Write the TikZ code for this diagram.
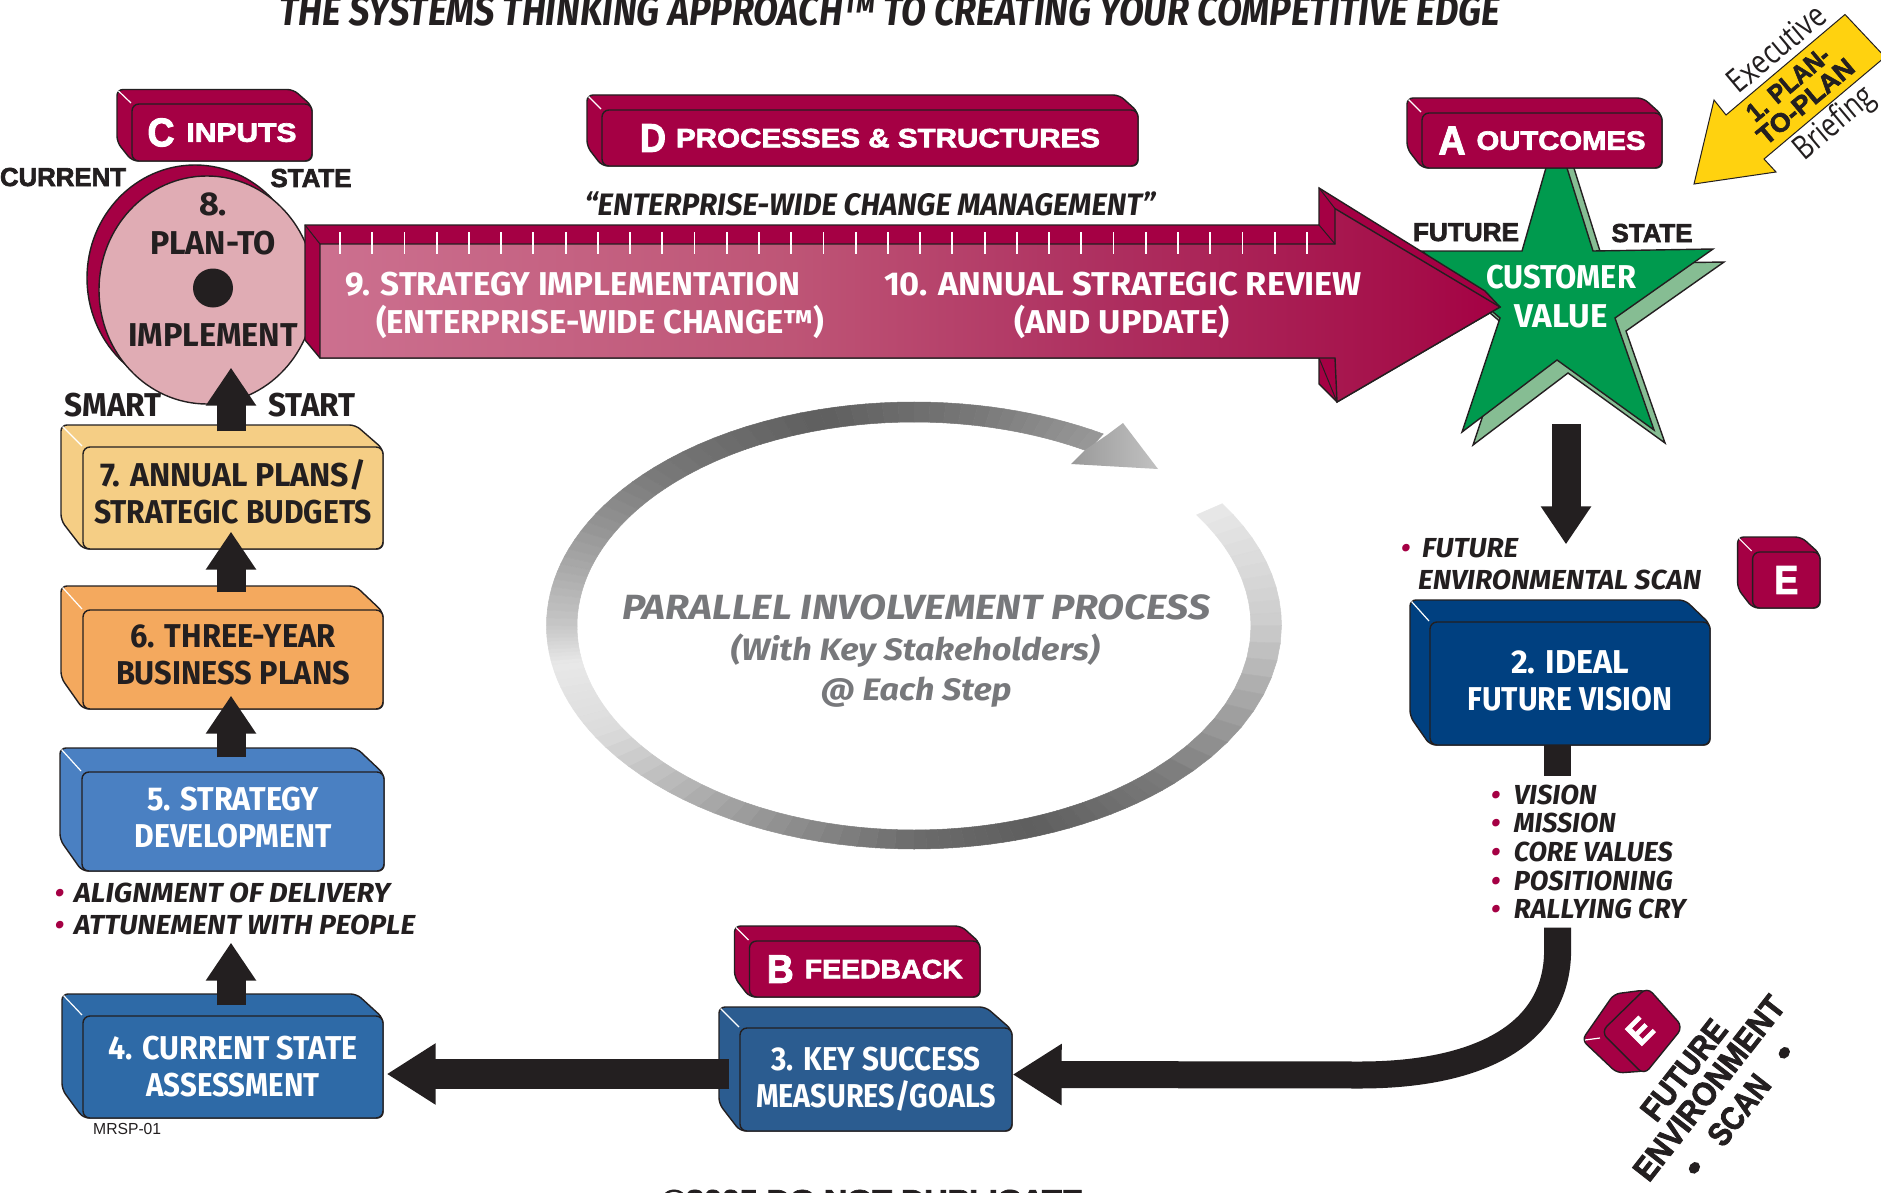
\documentclass[tikz,border=0pt]{standalone}
\usepackage{graphicx}
\usepackage{fontspec}
\usetikzlibrary{arrows.meta,shapes.geometric}
\setmainfont{Fira Sans}
\newfontfamily\blk{Liberation Sans}[UprightFont={* Bold},BoldFont={* Bold},UprightFeatures={FakeBold=2.5},BoldFeatures={FakeBold=2.5}]
\newfontfamily\myr{Open Sans}
\newfontfamily\hlv{Liberation Sans}
\definecolor{crim}{HTML}{A50044}
\definecolor{ink}{HTML}{231F20}
\definecolor{grn}{HTML}{009A4E}
\definecolor{lgrn}{HTML}{86BD93}
\definecolor{pinkc}{HTML}{E0ACB4}
\definecolor{yel}{HTML}{FFD20F}
\definecolor{bA}{HTML}{004080}
\definecolor{bB}{HTML}{2B5C90}
\definecolor{bC}{HTML}{2E6AA7}
\definecolor{bD}{HTML}{4A80C2}
\definecolor{orng}{HTML}{F4A95E}
\definecolor{sand}{HTML}{F5CE85}
\definecolor{ptxt}{HTML}{77787B}
\definecolor{c1}{HTML}{CC708F}
\definecolor{c2}{HTML}{BE5576}
\definecolor{c3}{HTML}{AE3060}
\definecolor{c4}{HTML}{A5104A}
\pgfdeclarehorizontalshading{longarrow}{100bp}{color(0bp)=(c1); color(25bp)=(c1); color(45bp)=(c2); color(58bp)=(c3); color(71bp)=(c4); color(75bp)=(crim); color(100bp)=(crim)}
\newsavebox\fitb
\newcommand{\fitw}[2]{\sbox\fitb{#2}\pgfmathsetmacro\fitr{#1/\wd\fitb}\scalebox{\fitr}[1]{\usebox\fitb}}
\newcommand{\fs}[1]{\fontsize{#1}{#1}\selectfont}
\newcommand{\up}[1]{\rule[-#1pt]{0pt}{1pt}}
\newcommand{\tdbox}[9]{%
 \draw[edge,#8,rounded corners=6] ({#2-#6},{#3-#7}) -- ({#4-1.25*#6},{#3-#7}) -- (#4,{#3+2}) -- (#4,#5) -- (#2,#5) -- ({#2-#6},{#5-1.3*#7}) -- cycle;
 \draw[white,line width=1.2] ({#2-#6+1.5},{#3-#7+1.5}) -- ({#2-1},{#3-1});
 \node[edge,#8,rectangle,rounded corners=7,inner sep=0,align=center,minimum width={(#4-#2)*1pt},minimum height={(#5-#3)*1pt}] (#1) at ({(#2+#4)/2},{(#3+#5)/2}) {#9};
}
\newcommand{\lst}[6]{\node[lab,anchor=base west] (#1) at ({#2-5},{#4+9.5}) {\fs{27.5}\bfseries\itshape\makebox[\dimexpr#3pt-#2pt+5pt\relax][l]{\textcolor{crim}{•}}\fitw{#5}{#6}};}
\tikzset{
 edge/.style={draw=ink,line width=1.4},
 lab/.style={inner sep=0,text=ink,anchor=base},
 btxt/.style={font=\bfseries\fontsize{33}{37}\selectfont},
 crimbox/.style={fill=crim,text=white},
 varrow/.style={draw=ink,line width=29,-{Triangle[length=38pt,width=48pt]}},
 harrow/.style={draw=ink,line width=28,-{Triangle[length=49pt,width=58pt]}}
}
\begin{document}
\begin{tikzpicture}[x=1pt,y=-1pt]
\useasboundingbox (0,0) rectangle (1881,1193);
\clip (0,0) rectangle (1881,1193);
\fill[white] (0,0) rectangle (1881,1193);
% title
\node[lab,anchor=base west] (title) at (279,26) {\fs{42}\bfseries\itshape\fitw{1221}{THE SYSTEMS THINKING APPROACH™ TO CREATING YOUR COMPETITIVE EDGE}};
% ring
\foreach \a/\ga/\b/\gb in {33/.91/0/.8,0/.8/-45/.48,-45/.48/-70/.37,-70/.37/-90/.42,-90/.42/-120/.62,-120/.62/-150/.86,-150/.86/-170/.91,-170/.91/-180/.78,-180/.78/-200/.63,-200/.63/-225/.47,-225/.47/-255/.37,-255/.37/-280/.47,-280/.47/-301/.6}{
 \foreach \k in {0,...,9}{
  \pgfmathsetmacro\ta{\a+(\b-\a)*\k/10}
  \pgfmathsetmacro\tb{\a+(\b-\a)*(\k+1)/10}
  \pgfmathsetmacro\gv{\ga+(\gb-\ga)*(\k+.5)/10}
  \definecolor{rc}{gray}{\gv}
  \fill[rc,draw=rc,line width=.5] ({914+367.5*cos(\ta)},{625.5-223.5*sin(\ta)}) -- ({914+367.5*cos(\tb)},{625.5-223.5*sin(\tb)}) -- ({914+337*cos(\tb)},{626-204*sin(\tb)}) -- ({914+337*cos(\ta)},{626-204*sin(\ta)}) -- cycle;
 }
}
\shade[left color=black!40,right color=black!24] (1123,423) -- (1158,469) -- (1071,464) -- (1085,450) -- (1107,435) -- cycle;
\node[lab,text=ptxt] (pip1) at (916,619) {\fs{35}\bfseries\itshape\fitw{588}{PARALLEL INVOLVEMENT PROCESS}};
\node[lab,text=ptxt] (pip2) at (915,660) {\fs{31}\bfseries\itshape\fitw{369}{(With Key Stakeholders)}};
\node[lab,text=ptxt] (pip3) at (916,700) {\fs{31}\bfseries\itshape\fitw{191}{@ Each Step}};
% plan-to ellipse
\node[ellipse,fill=crim,inner sep=0,minimum width=216,minimum height=226,edge] (n8back) at (195,278) {};
\node[ellipse,fill=pinkc,inner sep=0,minimum width=216,minimum height=228,edge] (n8) at (207,290) {};
\fill[ink] (213,288) ellipse (20 and 19.5);
\node[lab] (n8a) at (213,215) {\fs{33}\bfseries\fitw{28}{8.}};
\node[lab] (n8b) at (213,254) {\fs{33}\bfseries\fitw{126}{PLAN-TO}};
\node[lab] (n8c) at (213,346) {\fs{33}\bfseries\fitw{170}{IMPLEMENT}};
\node[lab] (smart) at (113,416) {\fs{33}\bfseries\fitw{97}{SMART}};
\node[lab] (start) at (312,416) {\fs{33}\bfseries\fitw{87}{START}};
\node[lab] (cur) at (63,186) {\blk\fs{26}\fitw{126}{CURRENT}};
\node[lab] (stateL) at (311,187) {\blk\fs{26}\fitw{81}{STATE}};
% star
\def\starpath{(1556,133) -- (1522,251) -- (1422,251) -- (1500,318) -- (1462,432) -- (1557,360) -- (1654,430) -- (1615,318) -- (1713,249) -- (1593,251) -- cycle}
\draw[edge,fill=lgrn,shift={(11,13)}] \starpath;
\draw[edge,fill=grn] \starpath;
\node[inner sep=0,text=white,align=center,font=\bfseries\fontsize{33}{39}\selectfont] (star) at (1561,297) {\fitw{150}{CUSTOMER}\\\fitw{93}{VALUE}};
\node[lab] (fut) at (1466,241) {\blk\fs{26}\fitw{106}{FUTURE}};
\node[lab] (stateR) at (1652,242) {\blk\fs{26}\fitw{81}{STATE}};
% long arrow
\draw[edge,fill=crim] (305,225) -- (1319,225) -- (1319,188) -- (1485,291) -- (1500,307) -- (1337,402) -- (1319,384) -- (1319,358) -- (320,358) -- (305,340) -- cycle;
\shade[shading=longarrow] (320,244) -- (1335,244) -- (1335,208.6) -- (1500,307) -- (1337,402) -- (1335,358) -- (320,358) -- cycle;
\draw[edge] (320,244) -- (1335,244) -- (1335,208.6) -- (1500,307) -- (1337,402) -- (1335,358) -- (320,358) -- cycle;
\draw[ink,line width=1] (305,225) -- (320,244) (1319,225) -- (1335,244) (1319,188) -- (1335,208.6) (1319,358) -- (1337,402);
\foreach \i in {0,...,30}{\draw[white,line width=1.8] ({340+\i*32.23},232) -- ({340+\i*32.23},254);}
\node[lab,text=white] (t9a) at (573,295) {\fs{33}\bfseries\fitw{455}{9. STRATEGY IMPLEMENTATION}};
\node[lab,text=white] (t9b) at (600,333) {\fs{33}\bfseries\fitw{448}{(ENTERPRISE-WIDE CHANGE™)}};
\node[lab,text=white] (t10a) at (1123,295) {\fs{33}\bfseries\fitw{478}{10. ANNUAL STRATEGIC REVIEW}};
\node[lab,text=white] (t10b) at (1122,333) {\fs{33}\bfseries\fitw{215}{(AND UPDATE)}};
\node[lab] (quote) at (870,215) {\fs{31}\bfseries\itshape\fitw{571}{“ENTERPRISE-WIDE CHANGE MANAGEMENT”}};
% header boxes
\tdbox{boxC}{132}{104}{312}{161}{15}{14.5}{crimbox}{\blk\fs{40}\fitw{27}{C}\hspace{12pt}\fs{26.5}\raisebox{4.5pt}{\fitw{110}{INPUTS}}}
\tdbox{boxD}{602}{110}{1138}{166}{15}{15}{crimbox}{\blk\fs{40}\fitw{26}{D}\hspace{10pt}\fs{26.5}\raisebox{4.5pt}{\fitw{424}{PROCESSES \& STRUCTURES}}}
\tdbox{boxA}{1422}{113}{1662}{168}{15}{15}{crimbox}{\blk\fs{40}\fitw{27}{A}\hspace{11pt}\fs{26.5}\raisebox{4.5pt}{\fitw{169}{OUTCOMES}}}
\tdbox{boxB}{749.5}{941}{980}{997}{15}{15}{crimbox}{\blk\fs{40}\fitw{27}{B}\hspace{11pt}\fs{26.5}\raisebox{4.5pt}{\fitw{158}{FEEDBACK}}}
\tdbox{boxE}{1752.6}{552}{1820}{608}{15}{15}{crimbox}{\blk\fs{40}\fitw{24}{E}}
% numbered boxes
\tdbox{n7}{83}{447}{383}{549}{22}{22}{fill=sand,text=ink,btxt}{\fitw{266}{7. ANNUAL PLANS/}\\\fitw{278}{STRATEGIC BUDGETS}\up{13}}
\tdbox{n6}{83}{610}{383}{709}{22}{24}{fill=orng,text=ink,btxt}{\fitw{205}{6. THREE-YEAR}\\\fitw{234}{BUSINESS PLANS}\up{9}}
\tdbox{n5}{82}{772}{384}{871}{22}{24}{fill=bD,text=white,btxt}{\fitw{172}{5. STRATEGY}\\\fitw{197}{DEVELOPMENT}\up{8}}
\tdbox{n4}{83}{1016}{383}{1118}{21}{22}{fill=bC,text=white,btxt}{\fitw{249}{4. CURRENT STATE}\\\fitw{173}{ASSESSMENT}}
\tdbox{n3}{740}{1028}{1012}{1131}{21}{21}{fill=bB,text=white,btxt}{\fitw{209}{3. KEY SUCCESS}\\\fitw{240}{MEASURES/GOALS}}
\tdbox{n2}{1430}{622}{1710}{745}{20}{22}{fill=bA,text=white,btxt}{\fitw{118}{2. IDEAL}\\\fitw{205}{FUTURE VISION}\up{6}}
% lists
\lst{lf}{1406}{1422}{548}{96}{FUTURE}
\node[lab,anchor=base west] (lf2) at (1418,589.5) {\fs{27.5}\bfseries\itshape\fitw{283}{ENVIRONMENTAL SCAN}};
\lst{lv1}{1496}{1513.6}{795}{83}{VISION}
\lst{lv2}{1496}{1513.6}{823}{102}{MISSION}
\lst{lv3}{1496}{1513.6}{852}{159}{CORE VALUES}
\lst{lv4}{1496}{1513.6}{880.6}{159}{POSITIONING}
\lst{lv5}{1496}{1513.6}{909}{172}{RALLYING CRY}
\lst{la1}{59.6}{74}{893}{316}{ALIGNMENT OF DELIVERY}
\lst{la2}{59.6}{74}{925}{341}{ATTUNEMENT WITH PEOPLE}
\node[lab,anchor=base west] (mrsp) at (93,1134) {\hlv\fs{16}\fitw{68}{MRSP-01}};
\node[lab,anchor=base west] (copy) at (662,1208) {\blk\fs{26}\fitw{421}{©2005 DO NOT DUPLICATE}};
% connectors
\draw[varrow] ([xshift=-2pt,yshift=10pt]n4.north) -- ([xshift=-2pt,yshift=-71pt]n5.south);
\draw[varrow] ([xshift=-2pt,yshift=14pt]n5.north) -- ([xshift=-2pt,yshift=14pt]n6.south);
\draw[varrow] ([xshift=-2pt,yshift=17pt]n6.north) -- ([xshift=-2pt,yshift=18pt]n7.south);
\draw[varrow] ([xshift=-2pt,yshift=15pt]n7.north) -- ([xshift=24pt,yshift=37pt]n8.south);
\draw[varrow] ([xshift=5pt,yshift=-127pt]star.center) -- ([xshift=-4pt,yshift=77pt]n2.north);
\coordinate (stubend) at (1557.6,776);
\coordinate (curvestart) at (1557.6,927.5);
\draw[draw=ink,line width=27] ([xshift=-12.4pt,yshift=1pt]n2.south) -- (stubend);
\draw[harrow,line width=27] (curvestart) -- (1557.6,950) .. controls (1557.6,1040) and (1470,1075) .. (1360,1075) -- ([yshift=5pt]n3.east);
\draw[harrow,line width=30] ([xshift=-10pt,yshift=5.5pt]n3.west) -- ([xshift=3pt,yshift=-7pt]n4.east);
% yellow arrow
\draw[edge,fill=yel,line width=1] (1694,184) -- (1714,100) -- (1726,115) -- (1845,14.5) -- (1885,57) -- (1764,159) -- (1776,172) -- cycle;
\node[lab,anchor=center,rotate=40] (y1) at (1788,84) {\blk\fs{26}\fitw{100}{1. PLAN-}};
\node[lab,anchor=center,rotate=40] (y2) at (1805.5,101.4) {\blk\fs{26}\fitw{118}{TO-PLAN}};
\node[lab,anchor=center,rotate=40] (y3) at (1776,48) {\myr\fs{33}\fitw{117}{Executive}};
\node[lab,anchor=center,rotate=40] (y4) at (1835,124) {\myr\fs{33}\fitw{95}{Briefing}};
% rotated E
\draw[edge,fill=crim,rounded corners=6] (1614,994) -- (1645,990) -- (1680,1026) -- (1645,1071) -- (1617,1073) -- (1582,1040) -- cycle;
\draw[edge,fill=crim,rounded corners=8] (1647,987) -- (1683,1027) -- (1644,1075) -- (1601,1032) -- cycle;
\draw[white,line width=1.2] (1585,1040) -- (1600,1038);
\node[lab,anchor=center,text=white,rotate=45] (erot) at (1640,1031) {\blk\fs{34}E};
\node[lab,anchor=center,rotate=52] (fe1) at (1684,1070) {\blk\fs{33}\fitw{118}{FUTURE}};
\node[lab,anchor=center,rotate=52] (fe2) at (1709,1088) {\blk\fs{33}\fitw{224}{ENVIRONMENT}};
\node[lab,anchor=center,rotate=52] (fe3) at (1739,1110) {\blk\fs{33}\fitw{14}{•}\hspace{26pt}\fitw{80}{SCAN}\hspace{26pt}\fitw{14}{•}};
\end{tikzpicture}
\end{document}
